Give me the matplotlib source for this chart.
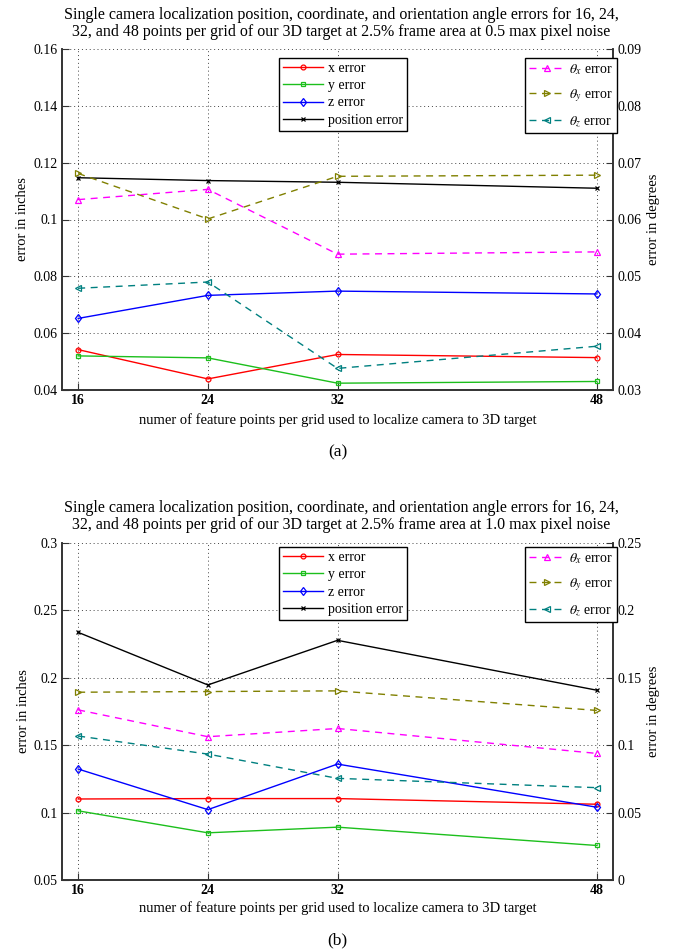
import matplotlib
matplotlib.use("Agg")
import matplotlib.pyplot as plt
import numpy as np

plt.rcParams['font.family'] = ['Liberation Serif', 'DejaVu Serif']
plt.rcParams['mathtext.fontset'] = 'stix'

points = [16, 24, 32, 48]

# Panel (a): 0.5 max pixel noise
a_x_err = [0.0542, 0.0439, 0.0525, 0.0514]
a_y_err = [0.0520, 0.0513, 0.0424, 0.0430]
a_z_err = [0.0652, 0.0733, 0.0748, 0.0738]
a_pos_err = [0.1147, 0.1137, 0.1131, 0.1110]
a_thx = [0.0635, 0.0653, 0.0539, 0.0543]
a_thy = [0.0681, 0.0601, 0.0676, 0.0678]
a_thz = [0.0479, 0.0490, 0.0338, 0.0377]

# Panel (b): 1.0 max pixel noise
b_x_err = [0.1101, 0.1104, 0.1104, 0.1062]
b_y_err = [0.1013, 0.0850, 0.0892, 0.0756]
b_z_err = [0.1323, 0.1022, 0.1360, 0.1040]
b_pos_err = [0.2337, 0.1947, 0.2278, 0.1908]
b_thx = [0.1262, 0.1063, 0.1124, 0.0939]
b_thy = [0.1393, 0.1398, 0.1403, 0.1258]
b_thz = [0.1068, 0.0934, 0.0754, 0.0685]

titles = [
    "Single camera localization position, coordinate, and orientation angle errors for 16, 24,\n32, and 48 points per grid of our 3D target at 2.5% frame area at 0.5 max pixel noise",
    "Single camera localization position, coordinate, and orientation angle errors for 16, 24,\n32, and 48 points per grid of our 3D target at 2.5% frame area at 1.0 max pixel noise",
]
xlabel = "numer of feature points per grid used to localize camera to 3D target"

W, H = 683, 952
fig = plt.figure(figsize=(W / 100, H / 100), dpi=100)


def fx(px):
    return px / W


def fy(py):
    return 1 - py / H


GREEN = '#1cbf1c'
SPINE = '#333333'
panels = [
    dict(top=49, bot=390, left_lim=(0.04, 0.16), left_ticks=np.arange(0.04, 0.161, 0.02),
         right_lim=(0.03, 0.09), right_ticks=np.arange(0.03, 0.091, 0.01),
         data=(a_x_err, a_y_err, a_z_err, a_pos_err, a_thx, a_thy, a_thz),
         title_y=(14, 33), xlab_y=420, lab='(a)', lab_y=452, leg_y=58,
         lfmt=['0.04', '0.06', '0.08', '0.1', '0.12', '0.14', '0.16'],
         rfmt=['0.03', '0.04', '0.05', '0.06', '0.07', '0.08', '0.09']),
    dict(top=543, bot=880, left_lim=(0.05, 0.3), left_ticks=np.arange(0.05, 0.301, 0.05),
         right_lim=(0.0, 0.25), right_ticks=np.arange(0.0, 0.251, 0.05),
         data=(b_x_err, b_y_err, b_z_err, b_pos_err, b_thx, b_thy, b_thz),
         title_y=(507, 526), xlab_y=908, lab='(b)', lab_y=940, leg_y=547,
         lfmt=['0.05', '0.1', '0.15', '0.2', '0.25', '0.3'],
         rfmt=['0', '0.05', '0.1', '0.15', '0.2', '0.25']),
]

L, R = 62, 613
for i, p in enumerate(panels):
    ax = fig.add_axes([fx(L), fy(p['bot']), fx(R) - fx(L), (p['bot'] - p['top']) / H])
    xe, ye, ze, pe, tx, ty, tz = p['data']
    l1, = ax.plot(points, xe, '-', color='red', marker='o', ms=3.5, mfc='none', mew=0.9, lw=1.0, label='x error')
    l2, = ax.plot(points, ye, '-', color=GREEN, marker='s', ms=3.2, mfc='none', mew=0.9, lw=1.0, label='y error')
    l3, = ax.plot(points, ze, '-', color='blue', marker='d', ms=4.5, mfc='none', mew=0.9, lw=1.0, label='z error')
    l4, = ax.plot(points, pe, '-', color='black', marker='x', ms=3.5, mew=0.9, lw=1.0, label='position error')
    ax.set_xlim(15, 49)
    ax.set_ylim(*p['left_lim'])
    ax.set_xticks(points)
    ax.set_xticklabels([str(v) for v in points], fontsize=10, fontweight='bold')
    ax.set_yticks(p['left_ticks'])
    ax.set_yticklabels(p['lfmt'], fontsize=10)
    ax.tick_params(direction='in', length=5, width=0.8, top=False, color=SPINE, pad=3)
    ax.grid(True, linestyle=(0, (1, 3)), color='#444444', lw=0.7)
    ax.set_ylabel('error in inches', fontsize=10.5, labelpad=3)
    for s in ax.spines.values():
        s.set_linewidth(1.2)
        s.set_color(SPINE)
    ax.spines['top'].set_visible(False)

    ax2 = ax.twinx()
    ax2.spines['top'].set_visible(False)
    for s in ax2.spines.values():
        s.set_linewidth(1.2)
        s.set_color(SPINE)
    m1, = ax2.plot(points, tx, '--', color='#ff00ff', marker='^', ms=4, mfc='none', mew=0.9, lw=1.0, dashes=(5, 4), label=r'$\theta_{x}$ error')
    m2, = ax2.plot(points, ty, '--', color='#808000', marker='>', ms=4, mfc='none', mew=0.9, lw=1.0, dashes=(5, 4), label=r'$\theta_{y}$ error')
    m3, = ax2.plot(points, tz, '--', color='#008080', marker='<', ms=4, mfc='none', mew=0.9, lw=1.0, dashes=(5, 4), label=r'$\theta_{z}$ error')
    ax2.set_ylim(*p['right_lim'])
    ax2.set_yticks(p['right_ticks'])
    ax2.set_yticklabels(p['rfmt'], fontsize=10)
    ax2.tick_params(direction='in', length=5, width=0.8, color=SPINE, pad=3)
    ax2.set_ylabel('error in degrees', fontsize=10.5, labelpad=4)

    leg1 = ax.legend(handles=[l1, l2, l3, l4], loc='upper left',
                     bbox_to_anchor=(fx(279), fy(p['leg_y'])), bbox_transform=fig.transFigure,
                     fontsize=10, frameon=True, fancybox=False, edgecolor='black',
                     handlelength=2.9, borderpad=0.3, labelspacing=0.3, handletextpad=0.3,
                     borderaxespad=0)
    leg1.get_frame().set_linewidth(1.0)
    leg1.get_frame().set_alpha(1)
    leg2 = ax2.legend(handles=[m1, m2, m3], loc='upper left',
                      bbox_to_anchor=(fx(525), fy(p['leg_y'])), bbox_transform=fig.transFigure,
                      fontsize=10, frameon=True, fancybox=False, edgecolor='black',
                      handlelength=2.6, borderpad=0.3, labelspacing=0.75, handletextpad=0.3,
                      borderaxespad=0)
    leg2.get_frame().set_linewidth(1.0)
    leg2.get_frame().set_alpha(1)

    fig.text(0.5, fy((p['title_y'][0] + p['title_y'][1]) / 2), titles[i],
             ha='center', va='center', fontsize=11.5, linespacing=1.05)
    fig.text(fx((L + R) / 2), fy(p['xlab_y']), xlabel, ha='center', va='center', fontsize=10.5)
    fig.text(fx((L + R) / 2), fy(p['lab_y']), p['lab'], ha='center', va='center', fontsize=12.5)

fig.savefig('out.png', dpi=100)
